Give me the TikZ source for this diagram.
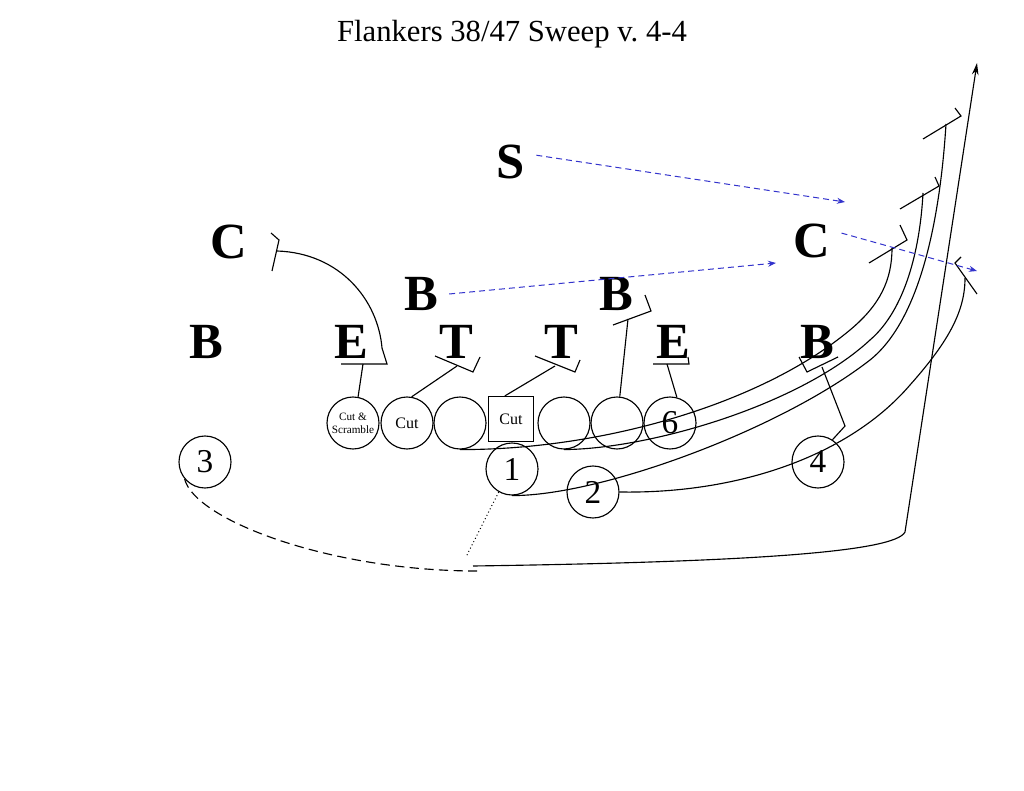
\documentclass[tikz,border=0pt]{standalone}
\usepackage{fontspec}
\setmainfont{Liberation Serif}
\usetikzlibrary{arrows.meta}
\definecolor{readblue}{RGB}{51,51,204}
\tikzset{
  defender/.style={inner sep=8pt, font=\fontsize{38}{38}\selectfont\bfseries},
  player/.style={draw, circle, minimum size=39pt, inner sep=0pt, font=\fontsize{25}{25}\selectfont},
  lineman/.style={draw, circle, minimum size=39pt, inner sep=0pt, align=center, font=\fontsize{12}{12}\selectfont},
  read/.style={readblue, line width=0.75pt, dash pattern=on 4.5pt off 3pt, -{Stealth[length=6pt,width=4.5pt]}},
}
\begin{document}
\begin{tikzpicture}[x=0.75pt, y=-0.75pt, line width=0.85pt]
\useasboundingbox (0,0) rectangle (1024,791);

\node[anchor=base, font=\fontsize{23}{23}\selectfont] (title) at (512,42) {Flankers 38/47 Sweep v.\ 4-4};

% defense
\node[defender] (safety) at (511,162) {S};
\node[defender] (cornerL) at (229,242) {C};
\node[defender] (cornerR) at (812,241) {C};
\node[defender] (backerL) at (421,294) {B};
\node[defender] (backerR) at (616,294) {B};
\node[defender] (backL) at (206,342) {B};
\node[defender] (endL) at (351,342) {E};
\node[defender] (tackleL) at (456,342) {T};
\node[defender] (tackleR) at (561,342) {T};
\node[defender] (endR) at (673,342) {E};
\node[defender] (backR) at (817,342) {B};

% offense
\node[lineman, font=\fontsize{8.4}{10}\selectfont] (scramble) at (353,423) {Cut \&\\Scramble};
\node[lineman] (cut) at (407,423) {Cut};
\node[lineman] (guardL) at (460,423) {};
\node[draw, minimum size=33.75pt, inner sep=0pt, font=\fontsize{12}{12}\selectfont] (snap) at (511,419) {Cut};
\node[lineman] (guardR) at (564,423) {};
\node[lineman] (tackle) at (617,423) {};
\node[player] (six) at (670,423) {6};
\node[player] (one) at (512,469) {1};
\node[player] (two) at (593,492) {2};
\node[player] (three) at (205,462) {3};
\node[player] (four) at (818,462) {4};

% block points
\coordinate (hitEL) at (363,364);
\coordinate (hitTL) at (457,366);
\coordinate (hitTR) at (555,366);
\coordinate (hitBR) at (628,319);
\coordinate (hitER) at (667,364);
\coordinate (hitB) at (822,367);
\coordinate (pitch) at (466,557);

% blocks at the line
\draw (scramble.79) -- (hitEL);
\draw (341,364) -- (387,364) -- (382,348) .. controls (378,300) and (340,253) .. (277,251);
\draw (271,233) -- (279,240) -- (272,271);
\draw (cut.80) -- (hitTL);
\draw (435,356) -- (473,372) -- (480,357);
\draw (snap.105) -- (hitTR);
\draw (535,356) -- (575,372) -- (580,360);
\draw (tackle.84) -- (hitBR);
\draw (613,325) -- (651,311) -- (645,295);
\draw (six.75) -- (hitER);
\draw (653,364) -- (689,364) -- (688,357);
\draw (four.57) -- (845,426) -- (hitB);
\draw (799,357) -- (807,372) -- (838,357);

% pulling and lead blocks
\draw (guardL.south) .. controls (600,450) and (760,405) .. (850,330) .. controls (880,305) and (892,280) .. (892,248);
\draw (869,263) -- (907,240) -- (900,225);
\draw (guardR.south) .. controls (650,449) and (800,405) .. (870,340) .. controls (905,310) and (920,250) .. (923,193);
\draw (900,209) -- (939,186) -- (935,177);
\draw (one.south) .. controls (600,496) and (780,430) .. (870,360) .. controls (920,320) and (940,220) .. (946,124);
\draw (923,139) -- (961,116) -- (955,108);
\draw (two.east) .. controls (740,494) and (850,455) .. (910,385) .. controls (950,340) and (965,310) .. (965,278);
\draw (961,257) -- (955,263) -- (977,294);

% ball carrier
\draw[line width=0.75pt, dotted] (one.240) -- (pitch);
\draw[dash pattern=on 7pt off 4pt] (three.220) .. controls (195,520) and (330,571) .. (477,571);
\draw[-{Stealth[length=9pt,width=5pt]}] (473,566) .. controls (750,562) and (895,552) .. (905,532) -- (977,63);

% reads
\draw[read] (safety.15) -- (845,202);
\draw[read] (cornerR.15) -- (977,271);
\draw[read] (backerL.east) -- (776,263);
\end{tikzpicture}
\end{document}
